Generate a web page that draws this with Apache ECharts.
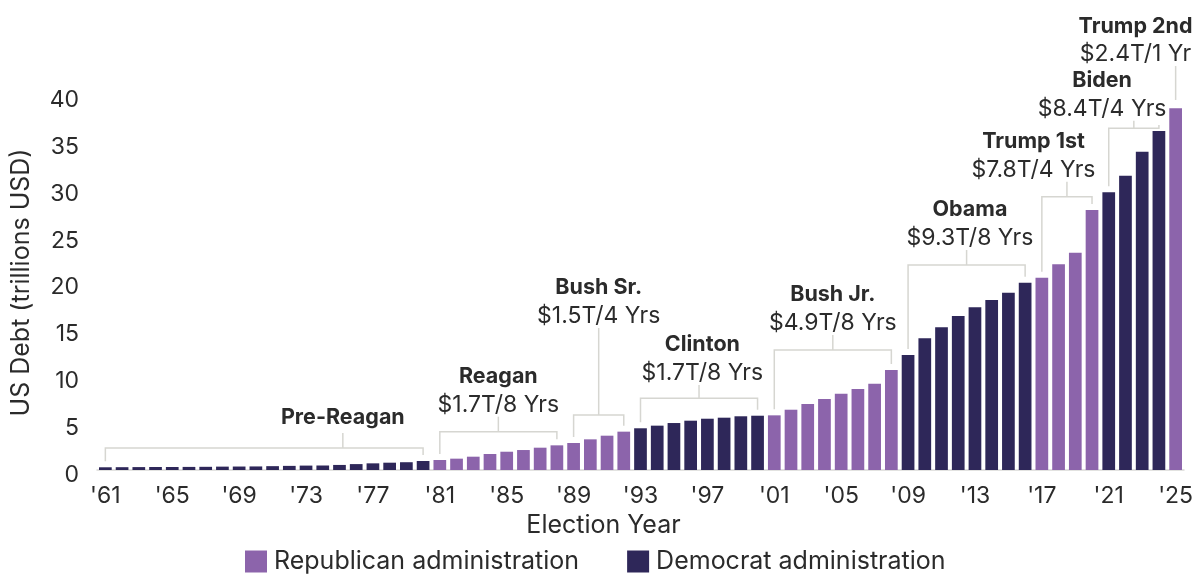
<!DOCTYPE html>
<html>
<head>
<meta charset="utf-8">
<script src="https://cdn.jsdelivr.net/npm/echarts@6/dist/echarts.min.js"></script>
<style>
  html, body { margin: 0; padding: 0; background: #fff; }
  #chart { width: 1198px; height: 574px; }
</style>
</head>
<body>
<div id="chart"></div>
<script>
// election years shown on the x axis
var years = [
  1961, 1962, 1963, 1964, 1965, 1966, 1967, 1968, 1969, 1970,
  1971, 1972, 1973, 1974, 1975, 1976, 1977, 1978, 1979, 1980,
  1981, 1982, 1983, 1984, 1985, 1986, 1987, 1988,
  1989, 1990, 1991, 1992,
  1993, 1994, 1995, 1996, 1997, 1998, 1999, 2000,
  2001, 2002, 2003, 2004, 2005, 2006, 2007, 2008,
  2009, 2010, 2011, 2012, 2013, 2014, 2015, 2016,
  2017, 2018, 2019, 2020,
  2021, 2022, 2023, 2024,
  2025
];

// US debt, trillions USD
var debt = [
  0.29, 0.30, 0.31, 0.32, 0.32, 0.33, 0.34, 0.36, 0.37, 0.38,
  0.41, 0.44, 0.47, 0.48, 0.54, 0.63, 0.71, 0.78, 0.83, 0.96,
  1.07, 1.21, 1.42, 1.71, 1.95, 2.13, 2.38, 2.63,
  2.88, 3.27, 3.66, 4.09,
  4.45, 4.73, 5.01, 5.26, 5.47, 5.58, 5.73, 5.79,
  5.83, 6.43, 7.04, 7.57, 8.14, 8.64, 9.21, 10.67,
  12.27, 14.05, 15.22, 16.43, 17.35, 18.13, 18.91, 19.98,
  20.51, 21.94, 23.18, 27.73,
  29.62, 31.39, 33.95, 36.16,
  38.58
];

// administrations
var adminNames = ['Pre-Reagan', 'Reagan', 'Bush Sr.', 'Clinton', 'Bush Jr.', 'Obama', 'Trump 1st', 'Biden', 'Trump 2nd'];
var adminAdded = ['', '$1.7T/8 Yrs', '$1.5T/4 Yrs', '$1.7T/8 Yrs', '$4.9T/8 Yrs', '$9.3T/8 Yrs', '$7.8T/4 Yrs', '$8.4T/4 Yrs', '$2.4T/1 Yr'];
var adminStart = [1961, 1981, 1989, 1993, 2001, 2009, 2017, 2021, 2025];
var adminEnd = [1980, 1988, 1992, 2000, 2008, 2016, 2020, 2024, 2025];
var adminParty = ['D', 'R', 'R', 'D', 'R', 'D', 'R', 'D', 'R'];

// bracket layout (in axis units: trillions / category index)
var bracketLevel = [2.35, 4.09, 5.87, 7.65, 12.8, 21.87, 29.15, 36.45, 39.47];
var bracketTop = [3.95, 5.69, 15.15, 9.07, 14.4, 23.47, 30.75, 37.26, 43.09];
var bracketTickAt = [14.2, 23.5, 29.5, 35.5, 43.5, 51.5, 57.5, 61.5, 64];
var labelShift = [0, 0, 0, 0.2, 0, 0.2, -2, -1.9, -2.4];

var RED = '#8c64ab';
var BLUE = '#2e2759';
var LINE = '#d6d6d1';
var INK = '#2b2b2b';
var FONT = 'Inter, "Noto Sans", sans-serif';

var chart = echarts.init(document.getElementById('chart'));

function partyOf(year) {
  for (var k = 0; k < adminStart.length; k++) {
    if (year >= adminStart[k] && year <= adminEnd[k]) return adminParty[k];
  }
  return 'D';
}

var repData = [];
var demData = [];
years.forEach(function (y, i) {
  var p = partyOf(y);
  repData.push(p === 'R' ? debt[i] : null);
  demData.push(p === 'D' ? debt[i] : null);
});

var labels = years.map(function (y) { return "'" + String(y).slice(2); });

// category axis rounds fractional indexes, so interpolate between two slots
function xAt(api, idx) {
  var i = Math.floor(idx);
  var x0 = api.coord([i, 0])[0];
  if (idx === i) return x0;
  var x1 = api.coord([i + 1, 0])[0];
  return x0 + (x1 - x0) * (idx - i);
}

function renderBracket(params, api) {
  var k = params.dataIndex;
  var i0 = adminStart[k] - years[0];
  var i1 = adminEnd[k] - years[0];
  var level = api.coord([i0, bracketLevel[k]])[1];
  var topY = api.coord([i0, bracketTop[k]])[1];
  var tx = xAt(api, bracketTickAt[k]);
  var children = [];
  var ls = { stroke: LINE, lineWidth: 1.5, fill: null };

  if (i0 !== i1) {
    var a = api.coord([i0, debt[i0]]);
    var b = api.coord([i1, debt[i1]]);
    children.push({
      type: 'polyline',
      shape: { points: [[a[0], a[1] - 6], [a[0], level], [b[0], level], [b[0], b[1] - 6]] },
      style: ls
    });
  }
  children.push({
    type: 'line',
    shape: { x1: tx, y1: level, x2: tx, y2: topY },
    style: ls
  });

  var lx = xAt(api, bracketTickAt[k] + labelShift[k]);
  if (adminAdded[k]) {
    children.push({
      type: 'text',
      style: {
        text: adminAdded[k], x: lx, y: topY - 12,
        align: 'center', verticalAlign: 'middle',
        fontFamily: FONT, fontSize: 23, fill: INK
      }
    });
    children.push({
      type: 'text',
      style: {
        text: adminNames[k], x: lx, y: topY - 40,
        align: 'center', verticalAlign: 'middle',
        fontFamily: FONT, fontSize: 21.5, fontWeight: 'bold', fill: INK
      }
    });
  } else {
    children.push({
      type: 'text',
      style: {
        text: adminNames[k], x: lx, y: topY - 15,
        align: 'center', verticalAlign: 'middle',
        fontFamily: FONT, fontSize: 21.5, fontWeight: 'bold', fill: INK
      }
    });
  }
  return { type: 'group', children: children };
}

var option = {
  animation: false,
  backgroundColor: '#fff',
  textStyle: { fontFamily: FONT },
  grid: { left: 97, right: 14, top: 95, bottom: 104 },
  legend: {
    data: ['Republican administration', 'Democrat administration'],
    left: 240,
    top: 544,
    icon: 'rect',
    itemWidth: 22,
    itemHeight: 22,
    itemGap: 48,
    textStyle: { fontSize: 25, color: INK, fontFamily: FONT, padding: [0, 0, 0, 2] }
  },
  xAxis: {
    type: 'category',
    data: labels,
    name: 'Election Year',
    nameLocation: 'middle',
    nameGap: 42,
    nameTextStyle: { fontSize: 25, color: INK, padding: [0, 74, 0, 0] },
    axisLine: { lineStyle: { color: '#d9d9d6', width: 1.5 } },
    axisTick: { show: false },
    axisLabel: { interval: 3, fontSize: 23, color: INK, margin: 15 }
  },
  yAxis: {
    type: 'value',
    min: 0,
    max: 40,
    interval: 5,
    name: 'US Debt (trillions USD)',
    nameLocation: 'middle',
    nameGap: 63,
    nameTextStyle: { fontSize: 25, color: INK },
    axisLine: { show: false },
    axisTick: { show: false },
    splitLine: { show: false },
    axisLabel: { fontSize: 23, color: INK, margin: 18, verticalAlign: 'top', lineHeight: 10 }
  },
  series: [
    {
      name: 'Republican administration',
      type: 'bar',
      data: repData,
      barGap: '-100%',
      barCategoryGap: '24%',
      itemStyle: { color: RED }
    },
    {
      name: 'Democrat administration',
      type: 'bar',
      data: demData,
      barGap: '-100%',
      barCategoryGap: '24%',
      itemStyle: { color: BLUE }
    },
    {
      type: 'custom',
      renderItem: renderBracket,
      clip: false,
      silent: true,
      data: bracketTickAt.map(function (x, k) { return [Math.round(x), bracketTop[k]]; }),
      z: 5
    }
  ]
};

chart.setOption(option);
</script>
</body>
</html>
